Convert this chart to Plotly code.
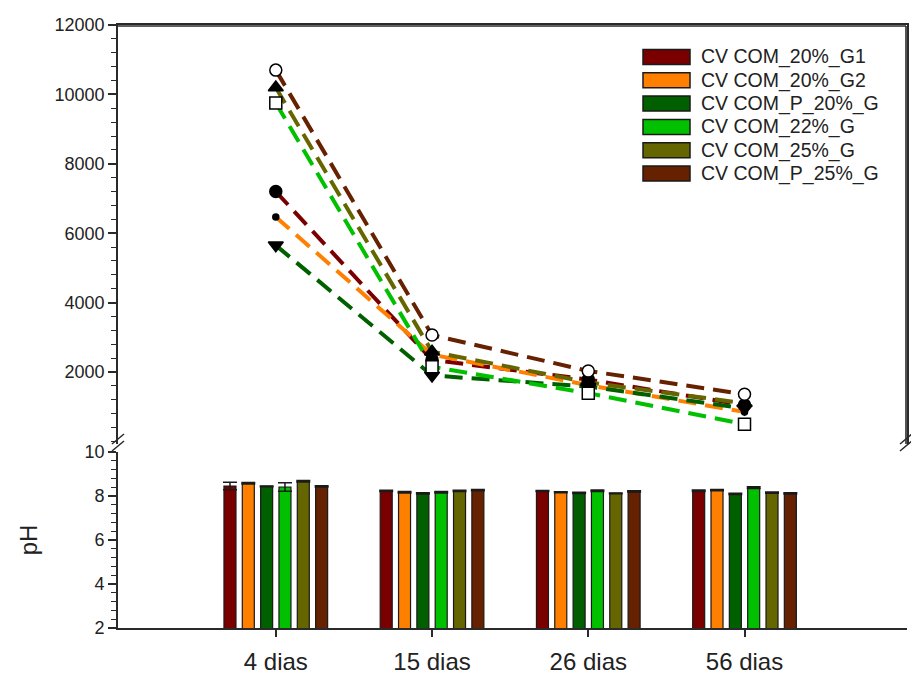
import plotly.graph_objects as go

# Sampling days (x categories)
categories = ["4 dias", "15 dias", "26 dias", "56 dias"]

# Treatment names and their colours
series_names = ["CV COM_20%_G1", "CV COM_20%_G2", "CV COM_P_20%_G",
                "CV COM_22%_G", "CV COM_25%_G", "CV COM_P_25%_G"]
series_colors = ["#7a0000", "#ff8000", "#006000", "#00c000", "#666600", "#662200"]

# Upper panel: measured values per treatment
upper_g1 = [7200, 2350, 1780, 1050]
upper_g2 = [6470, 2500, 1620, 850]
upper_p20 = [5650, 1900, 1580, 950]
upper_22 = [9750, 2150, 1390, 495]
upper_25 = [10200, 2585, 1700, 1100]
upper_p25 = [10700, 3065, 2030, 1360]

# Lower panel: pH per treatment and its standard deviation
ph_g1 = [8.45, 8.23, 8.23, 8.24]
ph_g2 = [8.58, 8.17, 8.17, 8.27]
ph_p20 = [8.44, 8.12, 8.14, 8.10]
ph_22 = [8.41, 8.17, 8.24, 8.38]
ph_25 = [8.67, 8.23, 8.12, 8.15]
ph_p25 = [8.44, 8.27, 8.21, 8.12]

ph_sd_g1 = [0.17, 0.03, 0.02, 0.03]
ph_sd_g2 = [0.03, 0.03, 0.02, 0.03]
ph_sd_p20 = [0.02, 0.03, 0.03, 0.03]
ph_sd_22 = [0.19, 0.03, 0.03, 0.04]
ph_sd_25 = [0.03, 0.03, 0.02, 0.03]
ph_sd_p25 = [0.03, 0.03, 0.03, 0.03]

upper_values = [upper_g1, upper_g2, upper_p20, upper_22, upper_25, upper_p25]
ph_values = [ph_g1, ph_g2, ph_p20, ph_22, ph_25, ph_p25]
ph_sds = [ph_sd_g1, ph_sd_g2, ph_sd_p20, ph_sd_22, ph_sd_25, ph_sd_p25]

# Marker style per treatment in the upper panel
marker_symbols = ["circle", "circle", "triangle-down", "square", "triangle-up", "circle"]
marker_sizes = [12, 6, 13, 12, 13, 12]
marker_fills = ["black", "black", "black", "white", "black", "white"]

FONT = "Liberation Sans, Arial, sans-serif"
AXIS_COLOR = "#2a2a2a"
W, H = 911, 675
L, R, T, B = 118, 4, 25, 47
PW, PH = W - L - R, H - T - B


def px_x(px):
    return (px - L) / PW


def px_y(py):
    return (H - B - py) / PH


top_bottom_px = 444
bot_top_px = 452

fig = go.Figure()

# pH bars
for name, color, vals, sd in zip(series_names, series_colors, ph_values, ph_sds):
    fig.add_trace(go.Bar(
        x=categories, y=vals, name=name, xaxis="x", yaxis="y",
        marker=dict(color=color, line=dict(color="#1a1a1a", width=1.2)),
        error_y=dict(type="data", array=sd, visible=True, color="#1a1a1a",
                     thickness=1.5, width=7),
        showlegend=False,
    ))

# Dashed lines first so every marker sits on top of them
for name, color, vals in zip(series_names, series_colors, upper_values):
    fig.add_trace(go.Scatter(
        x=categories, y=vals, mode="lines", xaxis="x2", yaxis="y2",
        line=dict(color=color, width=4, dash="18px,9px"),
        showlegend=False, hoverinfo="skip",
    ))

for name, sym, size, fill, vals in zip(series_names, marker_symbols, marker_sizes,
                                       marker_fills, upper_values):
    fig.add_trace(go.Scatter(
        x=categories, y=vals, mode="markers", xaxis="x2", yaxis="y2", name=name,
        marker=dict(symbol=sym, size=size, color=fill,
                    line=dict(color="black", width=1.5)),
        showlegend=False,
    ))

axis_common = dict(linecolor=AXIS_COLOR, linewidth=1.6, tickcolor=AXIS_COLOR,
                   showgrid=False, zeroline=False, automargin=False)

fig.update_layout(
    width=W, height=H,
    margin=dict(l=L, r=R, t=T, b=B),
    paper_bgcolor="white", plot_bgcolor="white",
    font=dict(family=FONT, color="#222222"),
    barmode="group", bargap=0.296, bargroupgap=0.345,
    showlegend=False,
    xaxis=dict(domain=[0, 1], anchor="y", range=[-1.01, 4.04], showline=True,
               ticks="outside", ticklen=7, tickwidth=1.5, ticklabelstandoff=4,
               tickfont=dict(size=24, family=FONT), **axis_common),
    yaxis=dict(domain=[0, px_y(bot_top_px)], anchor="x", range=[2, 10],
               showline=True, ticks="outside", ticklen=8, tickwidth=1.5,
               tickvals=[2, 4, 6, 8, 10], tickfont=dict(size=18, family=FONT),
               minor=dict(ticks="outside", ticklen=5, tickwidth=1, dtick=0.4,
                          tick0=2, tickcolor=AXIS_COLOR),
               title=dict(text="pH", font=dict(size=24, family=FONT), standoff=40),
               **axis_common),
    xaxis2=dict(domain=[0, 1], anchor="y2", matches="x", side="top", showline=True,
                ticks="", showticklabels=False, **axis_common),
    yaxis2=dict(domain=[px_y(top_bottom_px), 1], anchor="x2", range=[-75, 12000],
                showline=True, mirror=True, ticks="outside", ticklen=8, tickwidth=1.5,
                tickvals=[2000, 4000, 6000, 8000, 10000, 12000], tickformat="d",
                tickfont=dict(size=18, family=FONT),
                minor=dict(ticks="outside", ticklen=5, tickwidth=1, dtick=400,
                           tick0=0, tickcolor=AXIS_COLOR),
                **axis_common),
)

shapes = []
# Frame of the upper panel (top and right edges)
shapes.append(dict(type="line", xref="paper", yref="paper", x0=0, x1=px_x(W - R - 1),
                   y0=px_y(T + 1), y1=px_y(T + 1),
                   line=dict(color=AXIS_COLOR, width=1.6)))
shapes.append(dict(type="line", xref="paper", yref="paper",
                   x0=px_x(W - R - 1), x1=px_x(W - R - 1),
                   y0=px_y(top_bottom_px), y1=px_y(T + 1),
                   line=dict(color=AXIS_COLOR, width=1.6)))

# Axis break marks on the left and right edges
for x0 in (L, W - R - 1):
    for dy in (0, 7):
        shapes.append(dict(type="line", xref="paper", yref="paper",
                           x0=px_x(x0 - 6), y0=px_y(451 - dy),
                           x1=px_x(x0 + 6), y1=px_y(441 - dy),
                           line=dict(color=AXIS_COLOR, width=1.5)))

# Legend boxes and labels
annotations = []
for i, (name, color) in enumerate(zip(series_names, series_colors)):
    cy = 57 + i * 23.3
    shapes.append(dict(type="rect", xref="paper", yref="paper",
                       x0=px_x(643), x1=px_x(690), y0=px_y(cy + 7.5), y1=px_y(cy - 7.5),
                       fillcolor=color, line=dict(color="#1a1a1a", width=1.5)))
    annotations.append(dict(xref="paper", yref="paper", x=px_x(699), y=px_y(cy),
                            text=name, showarrow=False, xanchor="left",
                            yanchor="middle",
                            font=dict(size=19.5, family=FONT, color="#222222")))

fig.update_layout(shapes=shapes, annotations=annotations)

fig.write_html("out.html")
